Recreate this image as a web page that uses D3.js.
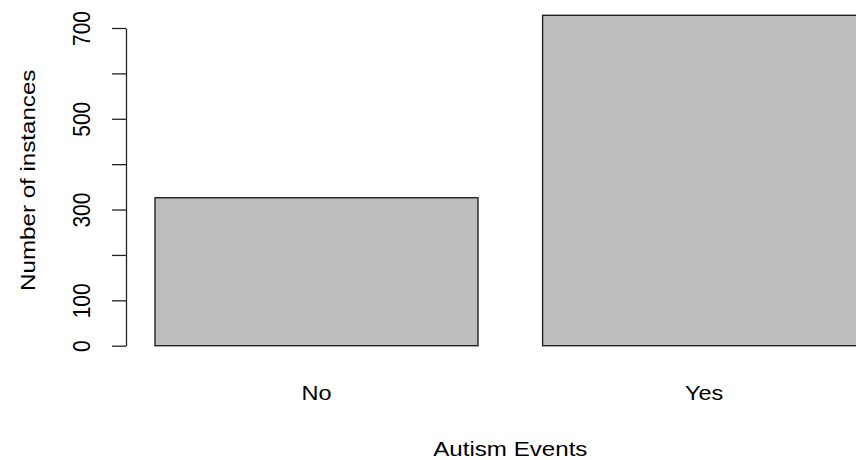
<!DOCTYPE html>
<html>
<head>
<meta charset="utf-8">
<script src="https://cdn.jsdelivr.net/npm/d3@7"></script>
<style>
  html, body { margin: 0; padding: 0; background: #fff; }
  svg { display: block; }
  text { font-family: "Liberation Sans", Arial, sans-serif; fill: #000; }
</style>
</head>
<body>
<svg id="chart" width="856" height="460"></svg>
<script>
// Counts of toddlers by ASD screening outcome
const categories = ["No", "Yes"];
const counts = [326, 728];
const yTicks = [0, 100, 200, 300, 400, 500, 600, 700];
const yTickLabels = [0, 100, 300, 500, 700];
const xTitle = "Autism Events";
const yTitle = "Number of instances";

const svg = d3.select("#chart");
const plot = { left: 126.6, right: 894, top: 1.6, bottom: 358.9 };

const x = d3.scaleBand()
  .domain(categories)
  .range([plot.left, plot.right])
  .paddingInner(1 / 6)
  .paddingOuter(0.0733);

const y = d3.scaleLinear()
  .domain([0, 700])
  .range([345.7, 28]);

// bars
svg.append("g")
  .selectAll("rect")
  .data(categories)
  .join("rect")
  .attr("x", d => x(d))
  .attr("y", (d, i) => y(counts[i]))
  .attr("width", x.bandwidth())
  .attr("height", (d, i) => y(0) - y(counts[i]))
  .attr("fill", "#bebebe")
  .attr("stroke", "#222")
  .attr("stroke-width", 1.4);

// y axis
const yAxis = d3.axisLeft(y)
  .tickValues(yTicks)
  .tickSize(14)
  .tickSizeOuter(0)
  .tickPadding(0)
  .tickFormat(d => yTickLabels.includes(d) ? d : "");

const ga = svg.append("g")
  .attr("transform", `translate(126,0)`)
  .call(yAxis);
ga.select(".domain").attr("stroke", "#222").attr("stroke-width", 1.3);
ga.selectAll(".tick line").attr("stroke", "#222").attr("stroke-width", 1.3);
ga.selectAll(".tick text")
  .attr("x", 0).attr("dy", null)
  .attr("transform", "translate(-44,0) rotate(-90) scale(1,1.1)")
  .attr("text-anchor", "middle")
  .attr("dominant-baseline", "central")
  .style("font-size", "21px")
  .style("font-family", "'Liberation Sans', Arial, sans-serif")
  .attr("fill", "#000");

// category labels
svg.append("g")
  .selectAll("text")
  .data(categories)
  .join("text")
  .attr("transform", d => `translate(${x(d) + x.bandwidth() / 2},393) scale(1.12,1)`)
  .attr("text-anchor", "middle")
  .attr("dominant-baseline", "central")
  .style("font-size", "21px")
  .text(d => d);

// axis titles
svg.append("text")
  .attr("transform", `translate(${(plot.left + plot.right) / 2},449) scale(1.15,1)`)
  .attr("text-anchor", "middle")
  .attr("dominant-baseline", "central")
  .style("font-size", "21px")
  .text(xTitle);

svg.append("text")
  .attr("transform", `translate(28,${(plot.top + plot.bottom) / 2}) rotate(-90) scale(1.15,1)`)
  .attr("text-anchor", "middle")
  .attr("dominant-baseline", "central")
  .style("font-size", "21px")
  .text(yTitle);
</script>
</body>
</html>
